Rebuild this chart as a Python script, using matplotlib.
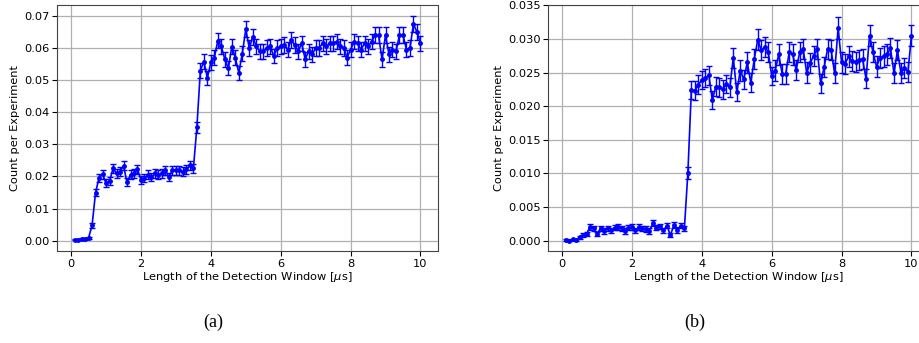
import numpy as np
import matplotlib.pyplot as plt

# detection window lengths (us), 0.1 .. 10 in steps of 0.1
window = np.round(np.linspace(0.1, 10.0, 100), 1)

# panel (a)
counts_a = [
    0.0003, 0.0003, 0.0005, 0.0005, 0.0009, 0.0048, 0.0150, 0.0196, 0.0207, 0.0179,
    0.0186, 0.0225, 0.0210, 0.0215, 0.0233, 0.0182, 0.0205, 0.0210, 0.0222, 0.0190,
    0.0195, 0.0205, 0.0198, 0.0210, 0.0205, 0.0210, 0.0220, 0.0198, 0.0220, 0.0220,
    0.0220, 0.0215, 0.0222, 0.0235, 0.0225, 0.0353, 0.0530, 0.0558, 0.0507, 0.0555,
    0.0570, 0.0623, 0.0605, 0.0565, 0.0537, 0.0604, 0.0570, 0.0523, 0.0583, 0.0658,
    0.0600, 0.0635, 0.0605, 0.0590, 0.0590, 0.0600, 0.0605, 0.0575, 0.0600, 0.0605,
    0.0610, 0.0595, 0.0625, 0.0610, 0.0590, 0.0615, 0.0565, 0.0590, 0.0580, 0.0600,
    0.0600, 0.0615, 0.0605, 0.0615, 0.0615, 0.0620, 0.0605, 0.0600, 0.0570, 0.0595,
    0.0620, 0.0615, 0.0595, 0.0615, 0.0605, 0.0620, 0.0640, 0.0640, 0.0565, 0.0640,
    0.0580, 0.0595, 0.0590, 0.0640, 0.0640, 0.0595, 0.0600, 0.0675, 0.0650, 0.0615,
]
errors_a = [
    0.0002, 0.0002, 0.0003, 0.0003, 0.0004, 0.0008, 0.0012, 0.0013, 0.0014, 0.0013,
    0.0013, 0.0014, 0.0014, 0.0014, 0.0014, 0.0013, 0.0014, 0.0014, 0.0014, 0.0013,
    0.0013, 0.0014, 0.0013, 0.0014, 0.0014, 0.0014, 0.0014, 0.0013, 0.0014, 0.0014,
    0.0014, 0.0014, 0.0014, 0.0014, 0.0014, 0.0018, 0.0022, 0.0023, 0.0022, 0.0023,
    0.0023, 0.0024, 0.0024, 0.0023, 0.0022, 0.0024, 0.0023, 0.0022, 0.0023, 0.0025,
    0.0024, 0.0024, 0.0024, 0.0024, 0.0024, 0.0024, 0.0024, 0.0023, 0.0024, 0.0024,
    0.0024, 0.0024, 0.0024, 0.0024, 0.0024, 0.0024, 0.0023, 0.0024, 0.0023, 0.0024,
    0.0024, 0.0024, 0.0024, 0.0024, 0.0024, 0.0024, 0.0024, 0.0024, 0.0023, 0.0024,
    0.0024, 0.0024, 0.0024, 0.0024, 0.0024, 0.0024, 0.0025, 0.0025, 0.0023, 0.0025,
    0.0024, 0.0024, 0.0024, 0.0025, 0.0025, 0.0024, 0.0024, 0.0025, 0.0025, 0.0024,
]

# panel (b)
counts_b = [
    0.0001, 0.0000, 0.0002, 0.0001, 0.0005, 0.0008, 0.0010, 0.0020, 0.0018, 0.0010,
    0.0018, 0.0014, 0.0018, 0.0015, 0.0019, 0.0020, 0.0018, 0.0014, 0.0019, 0.0020,
    0.0015, 0.0020, 0.0018, 0.0017, 0.0014, 0.0026, 0.0019, 0.0021, 0.0015, 0.0022,
    0.0008, 0.0023, 0.0016, 0.0022, 0.0018, 0.0101, 0.0224, 0.0223, 0.0232, 0.0239,
    0.0242, 0.0246, 0.0209, 0.0229, 0.0228, 0.0225, 0.0233, 0.0228, 0.0272, 0.0221,
    0.0253, 0.0240, 0.0265, 0.0235, 0.0270, 0.0299, 0.0283, 0.0288, 0.0281, 0.0245,
    0.0253, 0.0277, 0.0248, 0.0248, 0.0280, 0.0277, 0.0254, 0.0280, 0.0285, 0.0250,
    0.0264, 0.0275, 0.0285, 0.0234, 0.0258, 0.0285, 0.0284, 0.0249, 0.0316, 0.0265,
    0.0263, 0.0274, 0.0267, 0.0266, 0.0269, 0.0270, 0.0241, 0.0305, 0.0280, 0.0259,
    0.0272, 0.0274, 0.0277, 0.0286, 0.0249, 0.0283, 0.0249, 0.0257, 0.0251, 0.0305,
]
errors_b = [
    0.0001, 0.0001, 0.0001, 0.0001, 0.0002, 0.0003, 0.0003, 0.0004, 0.0004, 0.0003,
    0.0004, 0.0004, 0.0004, 0.0004, 0.0004, 0.0004, 0.0004, 0.0004, 0.0004, 0.0004,
    0.0004, 0.0004, 0.0004, 0.0004, 0.0004, 0.0005, 0.0004, 0.0004, 0.0004, 0.0004,
    0.0003, 0.0004, 0.0004, 0.0004, 0.0004, 0.0009, 0.0014, 0.0014, 0.0014, 0.0014,
    0.0014, 0.0014, 0.0013, 0.0014, 0.0014, 0.0014, 0.0014, 0.0014, 0.0015, 0.0014,
    0.0015, 0.0014, 0.0015, 0.0014, 0.0015, 0.0016, 0.0015, 0.0015, 0.0015, 0.0014,
    0.0015, 0.0015, 0.0015, 0.0015, 0.0015, 0.0015, 0.0015, 0.0015, 0.0015, 0.0015,
    0.0015, 0.0015, 0.0015, 0.0014, 0.0015, 0.0015, 0.0015, 0.0015, 0.0016, 0.0015,
    0.0015, 0.0015, 0.0015, 0.0015, 0.0015, 0.0015, 0.0014, 0.0016, 0.0015, 0.0015,
    0.0015, 0.0015, 0.0015, 0.0015, 0.0015, 0.0015, 0.0015, 0.0015, 0.0015, 0.0016,
]

plt.rcParams["font.size"] = 8.2


def draw_panel(ax, counts, errors, ylim, yfmt):
    ax.errorbar(window, counts, yerr=errors, color="b", marker="o",
                markersize=2.5, linewidth=1.2, elinewidth=1.0, capsize=2)
    ax.set_xlim(-0.395, 10.495)
    ax.set_ylim(*ylim)
    ax.set_xticks([0, 2, 4, 6, 8, 10])
    ax.yaxis.set_major_formatter(plt.FormatStrFormatter(yfmt))
    ax.set_xlabel("Length of the Detection Window [$\\mu$s]", labelpad=1)
    ax.set_ylabel("Count per Experiment", labelpad=3)
    ax.grid(color="#b0b0b0", linewidth=0.9)
    ax.set_axisbelow(True)
    for sp in ax.spines.values():
        sp.set_color("#444444")
    ax.tick_params(length=3.5, width=0.8, pad=2)


def main():
    fig = plt.figure(figsize=(9.2, 3.43), dpi=100)
    ax_a = fig.add_axes([0.0623, 0.2673, 0.4135, 0.719])
    ax_b = fig.add_axes([0.596, 0.2673, 0.4135, 0.719])

    draw_panel(ax_a, counts_a, errors_a, (-0.0033, 0.0735), "%.2f")
    ax_a.set_yticks(np.arange(0, 0.071, 0.01))
    draw_panel(ax_b, counts_b, errors_b, (-0.0016, 0.0351), "%.3f")
    ax_b.set_yticks(np.arange(0, 0.0351, 0.005))

    fig.text(0.2315, 0.06, "(a)", ha="center", va="center",
             family="Liberation Serif", fontsize=13)
    fig.text(0.7555, 0.06, "(b)", ha="center", va="center",
             family="Liberation Serif", fontsize=13)

    fig.savefig("out.png", dpi=100)


if __name__ == "__main__":
    main()
